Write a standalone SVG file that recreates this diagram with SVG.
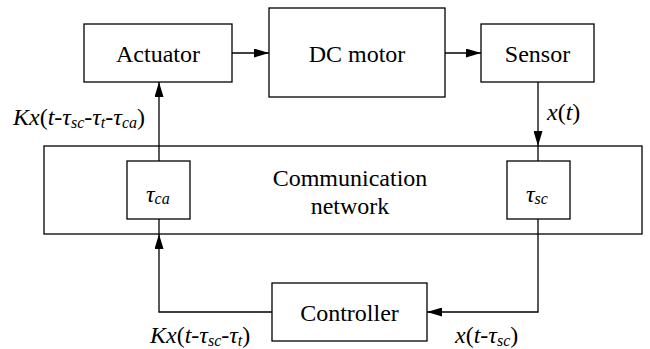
<svg xmlns="http://www.w3.org/2000/svg" width="650" height="349" viewBox="0 0 650 349">
<style>
rect{fill:#fff;stroke:#000;stroke-width:1.3}
.c{fill:none;stroke:#000;stroke-width:1.3}
text{font-family:'Liberation Serif','Times New Roman',serif;font-size:24px;fill:#000}
.m{font-style:italic}
.u{font-style:normal}
.s{font-size:16px;font-style:italic}
</style>
<defs>
<marker id="a" markerWidth="15" markerHeight="9" refX="15" refY="4.5" orient="auto" markerUnits="userSpaceOnUse">
<path d="M0,0 L15,4.5 L0,9 Z" fill="#000"/>
</marker>
</defs>
<rect x="0" y="0" width="650" height="349" style="stroke:none"/>
<g id="network">
<rect x="44" y="146" width="598" height="88"/>
<text x="350" y="186" text-anchor="middle">Communication</text>
<text x="350" y="214" text-anchor="middle">network</text>
</g>
<g id="actuator">
<rect x="84" y="24" width="148" height="58"/>
<text x="158" y="62" text-anchor="middle">Actuator</text>
</g>
<g id="dcmotor">
<rect x="269" y="8" width="176" height="89"/>
<text x="357" y="62" text-anchor="middle">DC motor</text>
</g>
<g id="sensor">
<rect x="481" y="24" width="113" height="58"/>
<text x="537.5" y="62" text-anchor="middle">Sensor</text>
</g>
<g id="tau-ca">
<rect x="127" y="161" width="63" height="58"/>
<text x="146" y="202" class="m">τ<tspan class="s" dy="2">ca</tspan></text>
</g>
<g id="tau-sc">
<rect x="507" y="161" width="63" height="58"/>
<text x="526" y="202" class="m">τ<tspan class="s" dy="2">sc</tspan></text>
</g>
<g id="controller">
<rect x="272" y="283" width="155" height="58"/>
<text x="349.5" y="321" text-anchor="middle">Controller</text>
</g>
<g id="connectors">
<path class="c" d="M232,53 H269" marker-end="url(#a)"/>
<path class="c" d="M445,53 H481" marker-end="url(#a)"/>
<path class="c" d="M538,82 V146" marker-end="url(#a)"/>
<path class="c" d="M538,146 V161"/>
<path class="c" d="M538,219 V312 H427" marker-end="url(#a)"/>
<path class="c" d="M272,312 H159 V234" marker-end="url(#a)"/>
<path class="c" d="M159,234 V219"/>
<path class="c" d="M159,161 V82" marker-end="url(#a)"/>
</g>
<g id="labels">
<text x="13" y="125" class="m">Kx<tspan class="u">(</tspan>t<tspan class="u">-</tspan>τ<tspan class="s" dy="3">sc</tspan><tspan class="u" dy="-3">-</tspan>τ<tspan class="s" dy="3">t</tspan><tspan class="u" dy="-3">-</tspan>τ<tspan class="s" dy="3">ca</tspan><tspan class="u" dy="-3">)</tspan></text>
<text x="547" y="120" class="m">x<tspan class="u">(</tspan>t<tspan class="u">)</tspan></text>
<text x="150" y="343" class="m">Kx<tspan class="u">(</tspan>t<tspan class="u">-</tspan>τ<tspan class="s" dy="3">sc</tspan><tspan class="u" dy="-3">-</tspan>τ<tspan class="s" dy="3">t</tspan><tspan class="u" dy="-3">)</tspan></text>
<text x="455" y="343" class="m">x<tspan class="u">(</tspan>t<tspan class="u">-</tspan>τ<tspan class="s" dy="3">sc</tspan><tspan class="u" dy="-3">)</tspan></text>
</g>
</svg>
